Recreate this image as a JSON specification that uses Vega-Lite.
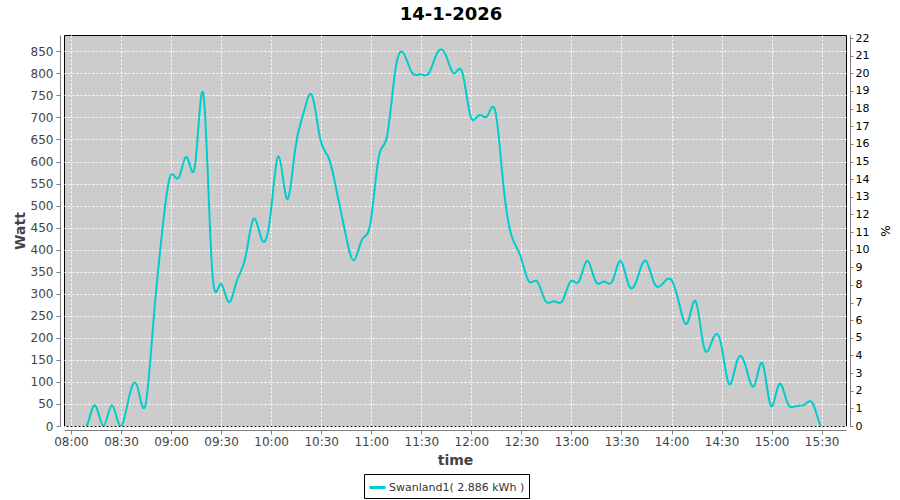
{
  "$schema": "https://vega.github.io/schema/vega-lite/v6.json",
  "autosize": "none",
  "width": 782,
  "height": 391,
  "padding": {"left": 64, "top": 35, "right": 54, "bottom": 74},
  "background": "white",
  "title": {"text": "14-1-2026", "font": "DejaVu Sans", "fontSize": 18, "fontWeight": "bold", "color": "#000000", "anchor": "middle", "offset": 8, "dx": -4},
  "config": {
    "view": {"fill": "#cccccc", "stroke": "#000000", "strokeWidth": 1},
    "axis": {"labelFont": "DejaVu Sans", "titleFont": "DejaVu Sans", "gridColor": "#ffffff", "gridDash": [2, 2], "gridWidth": 1, "gridOpacity": 1}
  },
  "data": {"values": [
    {"t": "2026-01-14T08:04:30", "w": 0},
    {"t": "2026-01-14T08:09:30", "w": 0},
    {"t": "2026-01-14T08:14:30", "w": 47},
    {"t": "2026-01-14T08:19:30", "w": 0},
    {"t": "2026-01-14T08:24:30", "w": 47},
    {"t": "2026-01-14T08:29:30", "w": 0},
    {"t": "2026-01-14T08:34:30", "w": 60},
    {"t": "2026-01-14T08:39:30", "w": 93},
    {"t": "2026-01-14T08:44:30", "w": 45},
    {"t": "2026-01-14T08:49:30", "w": 240},
    {"t": "2026-01-14T08:54:30", "w": 435},
    {"t": "2026-01-14T08:59:30", "w": 567},
    {"t": "2026-01-14T09:04:30", "w": 563},
    {"t": "2026-01-14T09:09:30", "w": 610},
    {"t": "2026-01-14T09:14:30", "w": 595},
    {"t": "2026-01-14T09:19:30", "w": 750},
    {"t": "2026-01-14T09:24:30", "w": 362},
    {"t": "2026-01-14T09:29:30", "w": 322},
    {"t": "2026-01-14T09:34:30", "w": 281},
    {"t": "2026-01-14T09:39:30", "w": 330},
    {"t": "2026-01-14T09:44:30", "w": 381},
    {"t": "2026-01-14T09:49:30", "w": 470},
    {"t": "2026-01-14T09:54:30", "w": 422},
    {"t": "2026-01-14T09:59:30", "w": 475},
    {"t": "2026-01-14T10:04:30", "w": 612},
    {"t": "2026-01-14T10:09:30", "w": 515},
    {"t": "2026-01-14T10:14:30", "w": 630},
    {"t": "2026-01-14T10:19:30", "w": 711},
    {"t": "2026-01-14T10:24:30", "w": 750},
    {"t": "2026-01-14T10:29:30", "w": 650},
    {"t": "2026-01-14T10:34:30", "w": 608},
    {"t": "2026-01-14T10:39:30", "w": 529},
    {"t": "2026-01-14T10:44:30", "w": 438},
    {"t": "2026-01-14T10:49:30", "w": 376},
    {"t": "2026-01-14T10:54:30", "w": 423},
    {"t": "2026-01-14T10:59:30", "w": 460},
    {"t": "2026-01-14T11:04:30", "w": 610},
    {"t": "2026-01-14T11:09:30", "w": 658},
    {"t": "2026-01-14T11:14:30", "w": 809},
    {"t": "2026-01-14T11:19:30", "w": 845},
    {"t": "2026-01-14T11:24:30", "w": 801},
    {"t": "2026-01-14T11:29:30", "w": 798},
    {"t": "2026-01-14T11:34:30", "w": 800},
    {"t": "2026-01-14T11:39:30", "w": 846},
    {"t": "2026-01-14T11:44:30", "w": 843},
    {"t": "2026-01-14T11:49:30", "w": 800},
    {"t": "2026-01-14T11:54:30", "w": 803},
    {"t": "2026-01-14T11:59:30", "w": 703},
    {"t": "2026-01-14T12:04:30", "w": 705},
    {"t": "2026-01-14T12:09:30", "w": 703},
    {"t": "2026-01-14T12:14:30", "w": 712},
    {"t": "2026-01-14T12:19:30", "w": 536},
    {"t": "2026-01-14T12:24:30", "w": 427},
    {"t": "2026-01-14T12:29:30", "w": 385},
    {"t": "2026-01-14T12:34:30", "w": 328},
    {"t": "2026-01-14T12:39:30", "w": 328},
    {"t": "2026-01-14T12:44:30", "w": 283},
    {"t": "2026-01-14T12:49:30", "w": 283},
    {"t": "2026-01-14T12:54:30", "w": 283},
    {"t": "2026-01-14T12:59:30", "w": 328},
    {"t": "2026-01-14T13:04:30", "w": 328},
    {"t": "2026-01-14T13:09:30", "w": 375},
    {"t": "2026-01-14T13:14:30", "w": 328},
    {"t": "2026-01-14T13:19:30", "w": 328},
    {"t": "2026-01-14T13:24:30", "w": 328},
    {"t": "2026-01-14T13:29:30", "w": 375},
    {"t": "2026-01-14T13:34:30", "w": 318},
    {"t": "2026-01-14T13:39:30", "w": 335},
    {"t": "2026-01-14T13:44:30", "w": 375},
    {"t": "2026-01-14T13:49:30", "w": 325},
    {"t": "2026-01-14T13:54:30", "w": 322},
    {"t": "2026-01-14T13:59:30", "w": 333},
    {"t": "2026-01-14T14:04:30", "w": 279},
    {"t": "2026-01-14T14:09:30", "w": 233},
    {"t": "2026-01-14T14:14:30", "w": 283},
    {"t": "2026-01-14T14:19:30", "w": 178},
    {"t": "2026-01-14T14:24:30", "w": 195},
    {"t": "2026-01-14T14:29:30", "w": 190},
    {"t": "2026-01-14T14:34:30", "w": 95},
    {"t": "2026-01-14T14:39:30", "w": 150},
    {"t": "2026-01-14T14:44:30", "w": 135},
    {"t": "2026-01-14T14:49:30", "w": 91},
    {"t": "2026-01-14T14:54:30", "w": 142},
    {"t": "2026-01-14T14:59:30", "w": 46},
    {"t": "2026-01-14T15:04:30", "w": 95},
    {"t": "2026-01-14T15:09:30", "w": 52},
    {"t": "2026-01-14T15:14:30", "w": 45},
    {"t": "2026-01-14T15:19:30", "w": 48},
    {"t": "2026-01-14T15:24:30", "w": 52},
    {"t": "2026-01-14T15:29:30", "w": 0},
    {"t": "2026-01-14T15:34:30", "w": 0}
  ]},
  "layer": [
    {
      "mark": {"type": "line", "interpolate": "natural", "strokeWidth": 2, "clip": true},
      "encoding": {
        "x": {"field": "t", "type": "temporal", "title": "time",
          "scale": {"domain": ["2026-01-14T07:55:50", "2026-01-14T15:44:35"]},
          "axis": {"format": "%H:%M", "values": ["2026-01-14T08:00:00", "2026-01-14T08:30:00", "2026-01-14T09:00:00", "2026-01-14T09:30:00", "2026-01-14T10:00:00", "2026-01-14T10:30:00", "2026-01-14T11:00:00", "2026-01-14T11:30:00", "2026-01-14T12:00:00", "2026-01-14T12:30:00", "2026-01-14T13:00:00", "2026-01-14T13:30:00", "2026-01-14T14:00:00", "2026-01-14T14:30:00", "2026-01-14T15:00:00", "2026-01-14T15:30:00"], "offset": 4, "domainColor": "#808080", "tickColor": "#808080", "tickSize": 4, "labelFontSize": 12, "labelColor": "#444444", "labelPadding": 2, "titleFontSize": 14, "titleFontWeight": "bold", "titleColor": "#444444", "titlePadding": 6, "labelFlush": false}},
        "y": {"field": "w", "type": "quantitative", "title": "Watt",
          "scale": {"domain": [0, 887], "nice": false},
          "axis": {"values": [0, 50, 100, 150, 200, 250, 300, 350, 400, 450, 500, 550, 600, 650, 700, 750, 800, 850], "offset": 4, "domainColor": "#808080", "tickColor": "#808080", "tickSize": 4, "labelFontSize": 12, "labelColor": "#444444", "labelPadding": 3, "titleFontSize": 14, "titleFontWeight": "bold", "titleColor": "#444444", "titlePadding": 3}},
        "color": {"datum": "Swanland1( 2.886 kWh )", "type": "nominal",
          "scale": {"range": ["#00cccc"]},
          "legend": {"title": null, "orient": "none", "legendX": 300, "legendY": 439, "strokeColor": "#000000", "fillColor": "#ffffff", "padding": 4, "symbolType": "stroke", "symbolSize": 256, "symbolStrokeWidth": 3, "labelFont": "DejaVu Sans", "labelFontSize": 11, "labelColor": "#333333", "labelOffset": 2, "cornerRadius": 0}}
      }
    },
    {
      "mark": {"type": "line", "opacity": 0},
      "encoding": {
        "x": {"field": "t", "type": "temporal"},
        "y": {"field": "w", "type": "quantitative", "title": "%",
          "scale": {"domain": [0, 887], "nice": false},
          "axis": {"orient": "right", "values": [0, 40, 80, 120, 160, 200, 240, 280, 320, 360, 400, 440, 480, 520, 560, 600, 640, 680, 720, 760, 800, 840, 880], "labelExpr": "datum.value / 40", "grid": false, "offset": 4, "domainColor": "#808080", "tickColor": "#808080", "tickSize": 3, "labelFontSize": 11, "labelColor": "#000000", "labelPadding": 2, "titleFontSize": 12, "titleFontWeight": "normal", "titleColor": "#000000", "titlePadding": 9}}
      }
    }
  ],
  "resolve": {"scale": {"y": "independent"}}
}
